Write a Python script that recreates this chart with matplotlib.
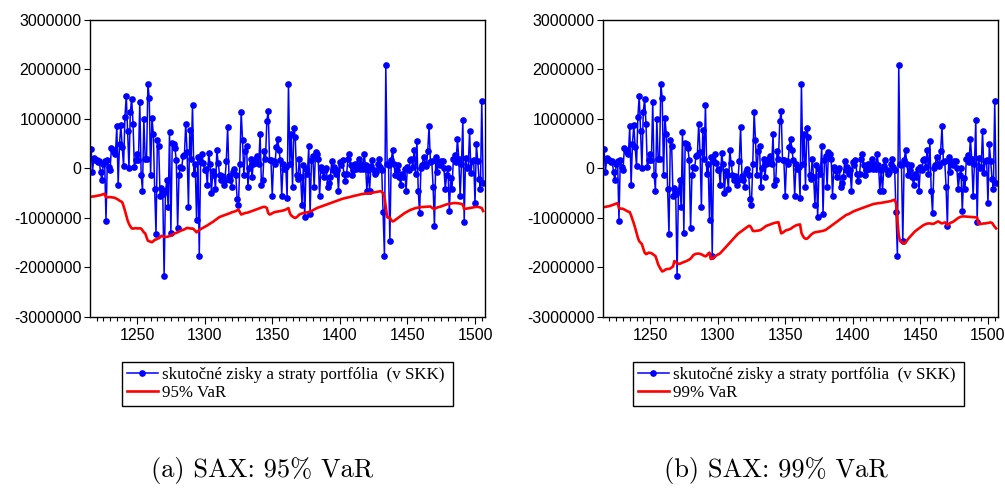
"""SAX portfolio: realised P&L vs. 95% / 99% VaR, two panels side by side."""

import numpy as np
import matplotlib
matplotlib.use("Agg")
import matplotlib.pyplot as plt
from matplotlib.ticker import MultipleLocator

# ---- data (SKK thousands), observation index starts at 1216 ----
START = 1216

pnl_k = [
    385, -74, 216, 176, 162, 135, 149, -74, -243, 95,
    149, -1053, 176, 27, -27, 405, 365, 338, 297, 851,
    -324, 500, 871, 432, 41, 1040, 1465, 749, 7, 1148,
    1404, 905, 27, 162, 284, 176, 1343, -122, -446, 999,
    196, 182, 1701, 1431, -142, 1026, 702, -412, -1323, 567,
    446, -547, -392, -513, -2180, -459, -243, -783, 729, -1303,
    513, 486, 419, 162, -1202, -135, 27, 14,
    243, 263, 905, 331, -783, 783, 196, 1283, -108, 95,
    -1040, 230, -1775, 128, 284, 108, -41, -14, -344, 317,
    81, -493, -54, -122, -412, 378, 108, -122, -230, -149,
    -344, -243, 149, 837, -162, -230, -365, -74, -7, -122,
    -614, -729, 81, 1141, 581, -142, 351, 446, -378, 14,
    196, -176, 95,
    108, 196, 243, 81, 689, -344, -243, 351, 196, 959,
    1161, 162, 176, -547, 149, 81, 432, 601, 365, 162,
    -547, 81, -7, 27, -594,
    1715,
    95, 702, -378, 824, 635, -142, -209, 196, -176, -729,
    61, -986, -7, -108, 446, -918, 162, 243, -378, 331,
    297, 196, -547, 27, -41, -176, -41, 14, -365, -297,
    -176, 142, -41, 27, -108, -41, -446, 128, 61, 162,
    -108, -257, -108, 196, 284, 61, -142, -41, 95, -7,
    95, 196, -7, 95, -7, 284, 61, -446, -41, -446,
    41, 162, -41, -108, -74, 81, 196, 27, -41, -884,
    -1760,
    2086, 95, 61, -1472, 162, 365, 95, -142, -41, 61,
    -176, -344, -108, -176, -7, -446, 27, -41, 162, 196,
    30, 380, -110, 550, -450, -900, 0, 80, 240, 100,
    50, 350, 850, 130, 160, -370, -1170, 240, -70, 130,
    60, 150, 160, 0, -410, -140, 0, -860, -200, -410,
    200, 270, 130, 600, 200, -560, 100, 980, -1080, 220,
    0, 30, 760, -90, 160, 170, -700, 490, 160, -210,
    -410, 1370, -300,
]

var95_k = [
    -570, -568, -565, -560, -556, -550, -545, -538, -530, -520,
    -510, -580, -582, -580, -578, -582, -585, -590, -600, -615,
    -630, -650, -665, -680, -760, -850, -950, -1050, -1120, -1170,
    -1210, -1215, -1210, -1205, -1210, -1212, -1208, -1215, -1250, -1290,
    -1310, -1390, -1460, -1470, -1480, -1490, -1470, -1440, -1435, -1420,
    -1410, -1390, -1360, -1370, -1380, -1385, -1380, -1375, -1365, -1355,
    -1340, -1320, -1310, -1300, -1290, -1275, -1260, -1250, -1240, -1230,
    -1215, -1200, -1205, -1210, -1215, -1210, -1230, -1260, -1290, -1270,
    -1240, -1225, -1210, -1195, -1180, -1165, -1150, -1130, -1115, -1095,
    -1080, -1060, -1040, -1020, -1000, -980, -970, -960, -950, -940,
    -930, -920, -910, -900, -885, -880, -870, -860, -845, -830,
    -880, -930, -920, -910, -900, -895, -890, -880, -870, -860,
    -850, -840, -830, -820, -810, -800, -790, -780, -775, -780,
    -800, -900, -930, -920, -905, -890, -880, -875, -870, -865,
    -860, -855, -850, -840, -830, -815, -800, -900, -950, -970,
    -990, -1000, -985, -960, -930, -920, -910, -900, -895, -890,
    -885, -880, -870, -860, -845, -830, -815, -800, -790, -780,
    -770, -760, -750, -740, -730, -720, -710, -700, -690, -680,
    -670, -660, -650, -640, -630, -620, -612, -605, -598, -590,
    -585, -580, -572, -565, -558, -550, -545, -540, -532, -525,
    -520, -515, -510, -508, -505, -505, -500, -495, -490, -485,
    -480, -475, -470, -465, -460, -470, -500, -580, -780, -980,
    -1000, -990, -1040, -1070, -1060, -1040, -1020, -1000, -980, -960,
    -940, -920, -900, -885, -870, -855, -840, -830, -820, -810,
    -800, -795, -790, -785, -780, -778, -776, -775, -774, -772,
    -770, -768, -790, -810, -820, -800, -790, -780, -775, -765,
    -755, -745, -735, -725, -720, -715, -710, -705, -700, -698,
    -700, -702, -705, -710, -720, -730, -820, -815, -810, -805,
    -800, -795, -790, -785, -780, -775, -775, -780, -790, -800,
    -860,
]

var99_k = [
    -780, -775, -770, -765, -760, -750, -740, -730, -720, -710,
    -700, -800, -810, -812, -815, -830, -845, -860, -875, -880,
    -950, -1030, -1110, -1200, -1300, -1400, -1470, -1500, -1530, -1620,
    -1700, -1730, -1720, -1700, -1705, -1710, -1730, -1750, -1770, -1850,
    -1940, -1990, -2040, -2080, -2070, -2050, -2035, -2030, -2030, -2020,
    -2000, -1980, -1870, -1890, -1910, -1930, -1925, -1915, -1900, -1890,
    -1880, -1870, -1855, -1840, -1820, -1790, -1750, -1735, -1725, -1720,
    -1720, -1725, -1735, -1750, -1765, -1775, -1760, -1720, -1700, -1830,
    -1820, -1800, -1780, -1760, -1740, -1730, -1710, -1680, -1650, -1620,
    -1590, -1560, -1530, -1500, -1470, -1440, -1410, -1380, -1350, -1320,
    -1300, -1280, -1260, -1240, -1220, -1200, -1180, -1160, -1160, -1200,
    -1260, -1265, -1262, -1260, -1255, -1250, -1240, -1220, -1200, -1180,
    -1160, -1150, -1140, -1130, -1120, -1110, -1100, -1095, -1090, -1085,
    -1200, -1310, -1300, -1280, -1260, -1245, -1240, -1230, -1220, -1200,
    -1180, -1165, -1150, -1140, -1135, -1130, -1300, -1360, -1400, -1420,
    -1420, -1400, -1370, -1340, -1320, -1300, -1290, -1285, -1280, -1275,
    -1270, -1265, -1260, -1250, -1240, -1220, -1200, -1180, -1160, -1140,
    -1120, -1100, -1080, -1060, -1040, -1020, -1000, -980, -960, -940,
    -930, -920, -905, -890, -875, -860, -850, -840, -830, -820,
    -810, -800, -790, -780, -770, -760, -750, -740, -730, -720,
    -715, -710, -705, -700, -700, -695, -690, -685, -680, -675,
    -670, -665, -660, -650, -640, -630, -700, -1050, -1350, -1470,
    -1480, -1500, -1520, -1500, -1460, -1420, -1390, -1360, -1330, -1300,
    -1270, -1250, -1230, -1210, -1190, -1170, -1150, -1135, -1125, -1115,
    -1110, -1110, -1115, -1120, -1115, -1100, -1085, -1070, -1080, -1100,
    -1110, -1100, -1090, -1095, -1150, -1130, -1100, -1090, -1080, -1060,
    -1040, -1020, -1000, -985, -975, -970, -968, -970, -972, -975,
    -978, -980, -980, -982, -985, -988, -990, -1120, -1125, -1120,
    -1115, -1110, -1110, -1105, -1100, -1095, -1090, -1100, -1140, -1180,
    -1210,
]

yticks = [3000000, 2000000, 1000000, 0, -1000000, -2000000, -3000000]
xticks = [1250, 1300, 1350, 1400, 1450, 1500]
pnl_label = "skutočné zisky a straty portfólia  (v SKK)"
var_labels = ["95% VaR", "99% VaR"]
captions = ["(a) SAX: 95% VaR", "(b) SAX: 99% VaR"]

BLUE = "#0000ff"; RED = "#ff0000"
plt.rcParams.update({
    "font.family": ["Liberation Sans", "DejaVu Sans"],
    "font.size": 11.5,
    "axes.linewidth": 1.0,
    "xtick.direction": "out", "ytick.direction": "out",
})


def panel(fig, rect, var_k, var_label, caption, leg_x, cap_x):
    ax = fig.add_axes(rect)
    x_p = np.arange(START, START + len(pnl_k))
    x_v = np.arange(START, START + len(var_k))
    ax.plot(x_p, np.array(pnl_k) * 1000, color=BLUE, lw=1.1,
            marker="o", ms=3.8, mec=BLUE, mfc=BLUE, label=pnl_label)
    ax.plot(x_v, np.array(var_k) * 1000, color=RED, lw=1.9, label=var_label)
    ax.set_xlim(1215.2, 1507.4)
    ax.set_ylim(-3000000, 3000000)
    ax.set_yticks(yticks)
    ax.set_yticklabels([str(v) for v in yticks])
    ax.set_xticks(xticks)
    ax.xaxis.set_minor_locator(MultipleLocator(5))
    ax.tick_params(axis="x", which="major", length=5, width=0.8, pad=3)
    ax.tick_params(axis="x", which="minor", length=3, width=0.8)
    ax.tick_params(axis="y", length=4, width=0.8, pad=2)
    leg = fig.legend(loc="upper left", bbox_to_anchor=(leg_x, 0.1752, 0.329, 0.0875),
                     mode="expand", borderaxespad=0, fancybox=False, framealpha=1,
                     edgecolor="black", handlelength=1.8, handletextpad=0.25,
                     labelspacing=0.12, borderpad=0.3, numpoints=1,
                     prop={"family": ["Liberation Serif", "DejaVu Serif"], "size": 12.2},
                     handles=ax.get_lines())
    leg.get_frame().set_linewidth(1.0)
    fig.text(cap_x, 0.028, caption, ha="center", va="baseline",
             fontsize=19, family=["cmr10", "DejaVu Serif"])
    return ax


fig = plt.figure(figsize=(10.05, 4.91), dpi=100)
panel(fig, [0.0896, 0.3544, 0.393, 0.605], var95_k, var_labels[0], captions[0], 0.1214, 0.2612)
panel(fig, [0.600, 0.3544, 0.393, 0.605], var99_k, var_labels[1], captions[1], 0.630, 0.772)
fig.savefig("out.png", dpi=100)
